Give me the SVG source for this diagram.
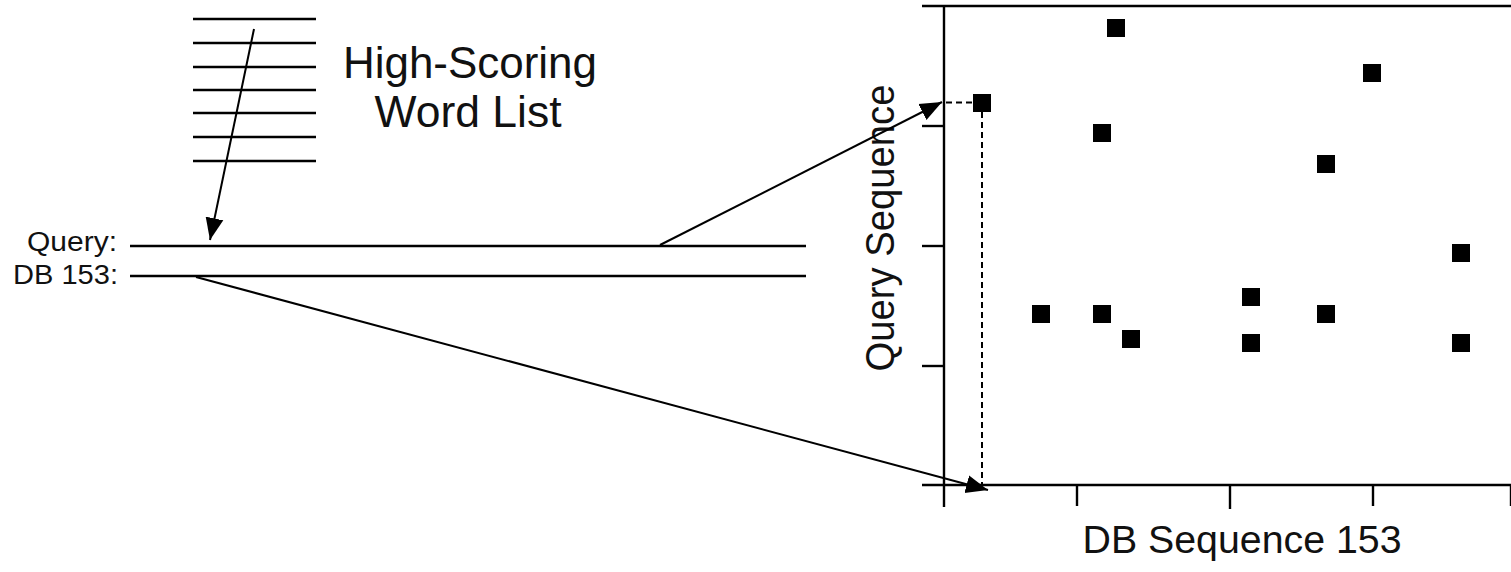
<svg xmlns="http://www.w3.org/2000/svg" width="1511" height="572" viewBox="0 0 1511 572">
<style>
.ln{stroke:#000;stroke-width:2.4;fill:none}
.ax{stroke:#000;stroke-width:2.4;fill:none}
.arr{stroke:#000;stroke-width:2;fill:none;marker-end:url(#ah)}
.dash{stroke:#000;stroke-width:2;fill:none;stroke-dasharray:6 4}
.pt{fill:#000}
text{font-family:"Liberation Sans",Arial,sans-serif;fill:#111}
</style>
<defs>
<marker id="ah" markerUnits="userSpaceOnUse" markerWidth="24" markerHeight="20" viewBox="0 0 24 20" refX="22" refY="10" orient="auto">
<path d="M0,1 L22,10 L0,19 Z" fill="#000"/>
</marker>
</defs>
<rect width="1511" height="572" fill="#fff"/>
<g id="word-list">
<line class="ln" x1="193" y1="19" x2="316" y2="19"/>
<line class="ln" x1="193" y1="43" x2="316" y2="43"/>
<line class="ln" x1="193" y1="67" x2="316" y2="67"/>
<line class="ln" x1="193" y1="90" x2="316" y2="90"/>
<line class="ln" x1="193" y1="113" x2="316" y2="113"/>
<line class="ln" x1="193" y1="137" x2="316" y2="137"/>
<line class="ln" x1="193" y1="161" x2="316" y2="161"/>
<text x="470" y="78" font-size="45" text-anchor="middle" textLength="254" lengthAdjust="spacingAndGlyphs">High-Scoring</text>
<text x="468" y="127" font-size="45" text-anchor="middle" textLength="187" lengthAdjust="spacingAndGlyphs">Word List</text>
</g>
<g id="alignment">
<line class="ln" x1="130" y1="246" x2="806" y2="246"/>
<line class="ln" x1="130" y1="276" x2="806" y2="276"/>
<text x="117" y="251" font-size="27" text-anchor="end" textLength="90" lengthAdjust="spacingAndGlyphs">Query:</text>
<text x="118" y="284" font-size="27" text-anchor="end" textLength="105" lengthAdjust="spacingAndGlyphs">DB 153:</text>
</g>
<g id="dot-plot">
<line class="ax" x1="944" y1="6" x2="944" y2="507"/>
<line class="ax" x1="922" y1="6" x2="1511" y2="6"/>
<line class="ax" x1="922" y1="485" x2="1511" y2="485"/>
<line class="ax" x1="922" y1="126" x2="944" y2="126"/>
<line class="ax" x1="922" y1="246" x2="944" y2="246"/>
<line class="ax" x1="922" y1="366" x2="944" y2="366"/>
<line class="ax" x1="1077" y1="485" x2="1077" y2="506"/>
<line class="ax" x1="1230" y1="485" x2="1230" y2="509"/>
<line class="ax" x1="1373" y1="485" x2="1373" y2="506"/>
<line class="ax" x1="1511" y1="485" x2="1511" y2="506"/>
<text transform="translate(894,228) rotate(-90)" font-size="40" text-anchor="middle" textLength="287" lengthAdjust="spacingAndGlyphs">Query Sequence</text>
<text x="1242" y="553" font-size="39" text-anchor="middle" textLength="319" lengthAdjust="spacingAndGlyphs">DB Sequence 153</text>
<rect class="pt" x="973" y="94" width="18" height="18"/>
<rect class="pt" x="1107" y="19" width="18" height="18"/>
<rect class="pt" x="1363" y="64" width="18" height="18"/>
<rect class="pt" x="1093" y="124" width="18" height="18"/>
<rect class="pt" x="1317" y="155" width="18" height="18"/>
<rect class="pt" x="1452" y="244" width="18" height="18"/>
<rect class="pt" x="1032" y="305" width="18" height="18"/>
<rect class="pt" x="1093" y="305" width="18" height="18"/>
<rect class="pt" x="1122" y="330" width="18" height="18"/>
<rect class="pt" x="1242" y="288" width="18" height="18"/>
<rect class="pt" x="1242" y="334" width="18" height="18"/>
<rect class="pt" x="1317" y="305" width="18" height="18"/>
<rect class="pt" x="1452" y="334" width="18" height="18"/>
</g>
<g id="connectors">
<line class="arr" x1="254" y1="29" x2="210" y2="240"/>
<line class="arr" x1="660" y1="245" x2="942" y2="102"/>
<line class="arr" x1="196" y1="277" x2="988" y2="490"/>
<line class="dash" x1="946" y1="102.5" x2="973" y2="102.5"/>
<line class="dash" x1="982" y1="112" x2="982" y2="485"/>
</g>
</svg>
